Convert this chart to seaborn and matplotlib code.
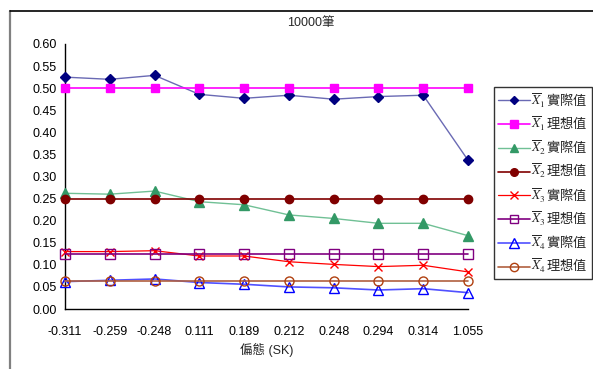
import matplotlib
matplotlib.use("Agg")
import matplotlib.pyplot as plt
import seaborn as sns
import pandas as pd
from matplotlib.lines import Line2D
from matplotlib.ticker import FormatStrFormatter

# Skewness levels (categories on the x axis)
skew_labels = ["-0.311", "-0.259", "-0.248", "0.111", "0.189",
               "0.212", "0.248", "0.294", "0.314", "1.055"]

# Observed and theoretical means for each variable
x1_actual = [0.525, 0.520, 0.529, 0.486, 0.477, 0.484, 0.475, 0.481, 0.484, 0.337]
x1_ideal = [0.500, 0.500, 0.500, 0.500, 0.500, 0.500, 0.500, 0.500, 0.500, 0.500]
x2_actual = [0.262, 0.260, 0.267, 0.243, 0.236, 0.213, 0.205, 0.194, 0.194, 0.166]
x2_ideal = [0.250, 0.250, 0.250, 0.250, 0.250, 0.250, 0.250, 0.250, 0.250, 0.250]
x3_actual = [0.130, 0.130, 0.132, 0.120, 0.120, 0.107, 0.101, 0.096, 0.099, 0.084]
x3_ideal = [0.125, 0.125, 0.125, 0.125, 0.125, 0.125, 0.125, 0.125, 0.125, 0.125]
x4_actual = [0.062, 0.065, 0.068, 0.060, 0.056, 0.050, 0.048, 0.043, 0.046, 0.037]
x4_ideal = [0.0625, 0.0625, 0.0625, 0.0625, 0.0625, 0.0625, 0.0625, 0.0625, 0.0625, 0.0625]

series_names = [
    r"$\overline{X}_1\,$實際值", r"$\overline{X}_1\,$理想值",
    r"$\overline{X}_2\,$實際值", r"$\overline{X}_2\,$理想值",
    r"$\overline{X}_3\,$實際值", r"$\overline{X}_3\,$理想值",
    r"$\overline{X}_4\,$實際值", r"$\overline{X}_4\,$理想值",
]
series_values = [x1_actual, x1_ideal, x2_actual, x2_ideal,
                 x3_actual, x3_ideal, x4_actual, x4_ideal]

# (line colour, marker, marker face, marker edge, marker size, line width)
styles = [
    ("#6a6ab4", "D", "#000080", "#000080", 5.0, 1.0),
    ("#ff00ff", "s", "#ff00ff", "#ff00ff", 6.0, 1.2),
    ("#70c095", "^", "#339966", "#339966", 6.5, 1.0),
    ("#800000", "o", "#800000", "#800000", 6.0, 1.2),
    ("#ff0000", "x", "#ff0000", "#ff0000", 6.0, 0.9),
    ("#800080", "s", "none", "#800080", 6.5, 1.2),
    ("#5050ff", "^", "none", "#0000ff", 7.0, 1.2),
    ("#b06040", "o", "none", "#b04010", 6.5, 1.2),
]

rows = []
for name, vals in zip(series_names, series_values):
    for i, v in enumerate(vals):
        rows.append({"series": name, "pos": i, "value": v})
df = pd.DataFrame(rows)

sns.set_style("white")
plt.rcParams["font.family"] = ["Liberation Sans", "Noto Sans CJK TC", "DejaVu Sans"]
plt.rcParams["mathtext.fontset"] = "stix"

W, H = 593, 369
fig = plt.figure(figsize=(W / 100, H / 100), dpi=100)
fig.patch.set_facecolor("white")

left, right, top, bottom = 65, 468, 44, 309
ax = fig.add_axes([left / W, 1 - bottom / H, (right - left) / W, (bottom - top) / H])
ax.set_facecolor("white")

handles = []
for name, (lc, mk, mf, me, ms, lw) in zip(series_names, styles):
    sub = df[df["series"] == name]
    sns.lineplot(data=sub, x="pos", y="value", ax=ax, color=lc, lw=lw,
                 marker=mk, markersize=ms, markerfacecolor=mf,
                 markeredgecolor=me, markeredgewidth=1.0,
                 clip_on=False, legend=False, zorder=3)
    handles.append(Line2D([0], [0], color=lc, lw=lw, marker=mk, markersize=ms - 0.5,
                          markerfacecolor=mf, markeredgecolor=me))

ax.set_xlim(0, len(skew_labels) - 1)
ax.set_ylim(0, 0.60)
ax.set_xticks(range(len(skew_labels)))
ax.set_xticklabels(skew_labels)
ax.set_yticks([i * 0.05 for i in range(13)])
ax.yaxis.set_major_formatter(FormatStrFormatter("%.2f"))
ax.tick_params(axis="both", direction="out", length=3, width=1, color="black",
               labelsize=9, labelcolor="black", pad=3)
ax.tick_params(axis="x", pad=9)
for s in ("top", "right"):
    ax.spines[s].set_visible(False)
for s in ("left", "bottom"):
    ax.spines[s].set_color("black")
    ax.spines[s].set_linewidth(1.0)
ax.set_xlabel("偏態 (SK)", fontsize=9, labelpad=4)
ax.set_ylabel("")

fig.text(311 / W, 1 - 23 / H, "10000筆", ha="center", va="center", fontsize=9)

leg = fig.legend(handles, series_names, loc="upper left",
                 bbox_to_anchor=(494 / W, 1 - 87 / H), borderaxespad=0,
                 frameon=True, fancybox=False, shadow=False,
                 prop={"family": ["Noto Sans CJK TC"], "size": 9.5},
                 handlelength=2.4, handletextpad=0.12, labelspacing=0.44,
                 borderpad=0.3)
leg.get_frame().set_edgecolor("black")
leg.get_frame().set_linewidth(1.0)

# outer chart frame
fig.add_artist(Line2D([10 / W, 10 / W], [-0.05, 1 - 11 / H], transform=fig.transFigure,
                      color="#808080", lw=1.6))
fig.add_artist(Line2D([10 / W, 1.05], [1 - 11 / H, 1 - 11 / H], transform=fig.transFigure,
                      color="black", lw=1.2))

fig.savefig("out.png", dpi=100)
